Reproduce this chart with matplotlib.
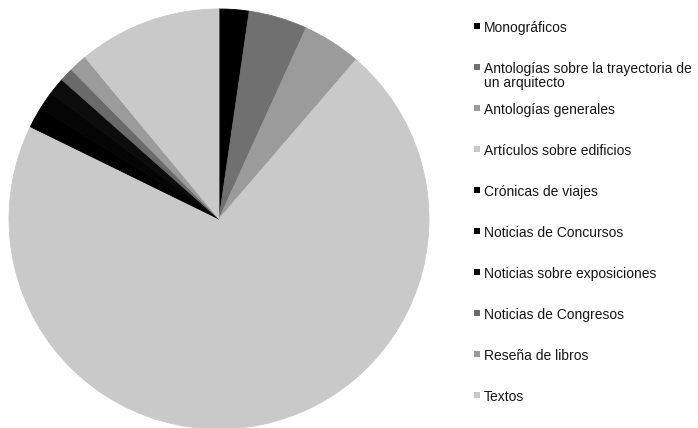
import matplotlib.pyplot as plt
from matplotlib.patches import Rectangle

# share of each type of publication (percent)
labels = [
    'Monográficos',
    'Antologías sobre la trayectoria de\nun arquitecto',
    'Antologías generales',
    'Artículos sobre edificios',
    'Crónicas de viajes',
    'Noticias de Concursos',
    'Noticias sobre exposiciones',
    'Noticias de Congresos',
    'Reseña de libros',
    'Textos',
]
values = [2.3, 4.5, 4.5, 70.9, 1.6, 1.4, 1.3, 1.05, 1.4, 11.0]
colors = ['#000000', '#707070', '#9b9b9b', '#c9c9c9',
          '#000000', '#050505', '#0c0c0c', '#6a6a6a', '#9b9b9b', '#c9c9c9']

W, H = 698, 428
plt.rcParams['font.family'] = ['Liberation Sans', 'DejaVu Sans']

fig = plt.figure(figsize=(W / 100, H / 100), dpi=100)
fig.patch.set_facecolor('white')

# pie, clockwise from 12 o'clock
ax = fig.add_axes([9 / W, -1 / H, 420 / W, 420 / H])
wedges, _ = ax.pie(values, colors=colors, startangle=90, counterclock=False,
                   radius=1)
# edge in the fill colour so neighbouring wedges show no seams
for w in wedges:
    w.set_edgecolor(w.get_facecolor())
    w.set_linewidth(0.6)
ax.set_xlim(-1, 1)
ax.set_ylim(-1, 1)
ax.set_aspect('equal')
ax.axis('off')

# legend drawn by hand: fixed pitch, handle on the first line
y0, step = 26, 41
for i, (lab, c) in enumerate(zip(labels, colors)):
    y = y0 + step * i
    fig.add_artist(Rectangle((474 / W, 1 - (y + 3) / H), 6 / W, 6 / H,
                             transform=fig.transFigure, color=c, lw=0))
    fig.text(484 / W, 1 - (y - 5) / H, lab, fontsize=10, color='#151515',
             ha='left', va='top', linespacing=1.0)

fig.savefig('out.png', dpi=100, facecolor='white')
